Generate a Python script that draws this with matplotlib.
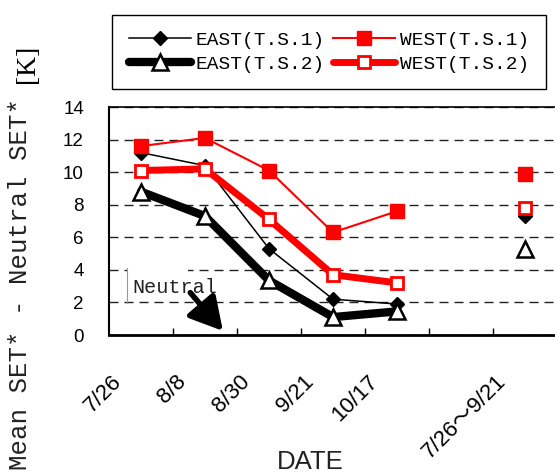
import numpy as np
import matplotlib
matplotlib.use("Agg")
import matplotlib.pyplot as plt
from matplotlib.transforms import ScaledTranslation
from matplotlib.patches import Rectangle

# data (index 5 is an empty slot between the dates and the summary)
dates = ['7/26', '8/8', '8/30', '9/21', '10/17', '', '7/26\u301c9/21']
east_ts1 = [11.2, 10.4, 5.3, 2.2, 1.9, np.nan, 7.3]
east_ts2 = [8.8, 7.3, 3.35, 1.1, 1.45, np.nan, 5.3]
west_ts1 = [11.6, 12.1, 10.1, 6.3, 7.6, np.nan, 9.9]
west_ts2 = [10.1, 10.2, 7.1, 3.7, 3.2, np.nan, 7.8]
yticks = [0, 2, 4, 6, 8, 10, 12, 14]

W, H = 555, 474
fig = plt.figure(figsize=(W / 100, H / 100), dpi=100)
ax = fig.add_axes([109 / W, (H - 335) / H, 448 / W, (335 - 107) / H])

x = np.arange(len(dates))

ax.plot(x, east_ts1, color='black', lw=1.1, marker='D', ms=7.5, mfc='black',
        mec='black', label='EAST(T.S.1)', zorder=3)
ax.plot(x, east_ts2, color='black', lw=6, marker='^', ms=11, mfc='white',
        mec='black', mew=1.8, solid_capstyle='round', label='EAST(T.S.2)', zorder=3)
ax.plot(x, west_ts1, color='red', lw=1.5, marker='s', ms=10.5, mfc='red',
        mec='red', label='WEST(T.S.1)', zorder=4)
ax.plot(x, west_ts2, color='red', lw=5, marker='s', ms=9, mfc='white',
        mec='red', mew=2, solid_capstyle='round', label='WEST(T.S.2)', zorder=4)

ax.set_xlim(-0.5, len(dates) - 0.5)
ax.set_ylim(0, 14)
ax.set_yticks(yticks)
ax.yaxis.grid(True, color='#222222', lw=1, ls=(0, (6.5, 4.3)))
ax.set_axisbelow(True)
ax.tick_params(axis='y', length=0, pad=18, labelsize=13.5)
for t in ax.get_yticklabels():
    t.set_family('Liberation Sans')

ax.set_xticks(x)
ax.set_xticklabels(dates, rotation=45, ha='right', fontsize=16,
                   family=['Liberation Sans', 'Noto Sans CJK JP'])
ax.set_xticks(x[:-1] + 0.5, minor=True)
ax.tick_params(axis='x', which='major', length=0, pad=26)
ax.tick_params(axis='x', which='minor', direction='in', length=5, width=1)
shift = ScaledTranslation(-15 / 100, 0, fig.dpi_scale_trans)
for t in ax.get_xticklabels():
    t.set_transform(t.get_transform() + shift)

ax.spines['right'].set_visible(False)
ax.spines['left'].set_linewidth(1.5)
ax.spines['bottom'].set_linewidth(2)
ax.spines['top'].set_linewidth(1.2)

# "Neutral" note with arrow
ax.add_patch(Rectangle((-0.22, 2.1), 0.95, 2.05, facecolor='white',
                       edgecolor='none', zorder=1.5))
ax.plot([-0.22, -0.22], [1.98, 4.14], color='#999999', lw=0.8, zorder=1.6)
ax.text(-0.13, 2.6, 'Neutral', family='Liberation Mono', fontsize=14.5,
        color='#222222', zorder=2)
ax.annotate('', xy=(1.28, 0.25), xytext=(0.77, 2.6),
            arrowprops=dict(arrowstyle='-|>,head_length=0.9,head_width=0.5',
                            lw=4, color='black', mutation_scale=22,
                            shrinkA=0, shrinkB=0),
            zorder=2)

leg = ax.legend(loc='upper left', bbox_to_anchor=(112 / W, 1 - 15 / H),
                bbox_transform=fig.transFigure, ncol=2, numpoints=1,
                prop={'family': 'Liberation Mono', 'size': 14},
                handlelength=3.2, handletextpad=0.25, columnspacing=0.4,
                borderpad=0.85, labelspacing=0.3, borderaxespad=0,
                fancybox=False, framealpha=1, edgecolor='black')
leg.get_frame().set_linewidth(1)

fig.text(20 / W, 1 - 284 / H, 'Mean SET* - Neutral SET*', rotation=90,
         ha='center', va='center', family='Liberation Mono', fontsize=18.5,
         color='#222222')
fig.text(28 / W, 1 - 64 / H, '[K]', rotation=90, ha='center', va='center',
         family='Liberation Serif', fontsize=20)
fig.text(310 / W, 5 / H, 'DATE', ha='center', va='baseline',
         family='Liberation Sans', fontsize=18.5, color='#222222')

fig.savefig('out.png', dpi=100)
